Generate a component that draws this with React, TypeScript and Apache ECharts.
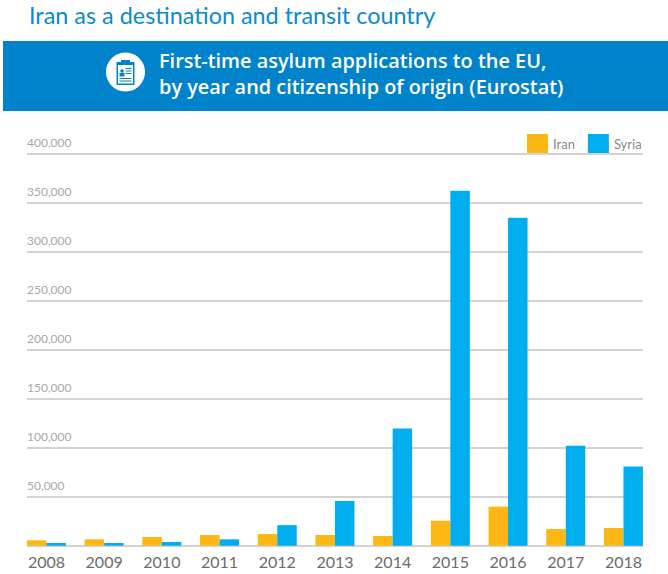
import React, { useEffect, useRef } from "react";
import * as echarts from "echarts";

const years = ["2008", "2009", "2010", "2011", "2012", "2013", "2014", "2015", "2016", "2017", "2018"];
const iran = [5500, 6500, 8900, 10900, 11900, 10900, 9900, 25500, 39800, 17000, 18000];
const syria = [2800, 2800, 3800, 6500, 21000, 45500, 119500, 362000, 334500, 102000, 80700];
const heading = "Iran as a destination and transit country";
const bannerLines = ["First-time asylum applications to the EU,", "by year and citizenship of origin (Eurostat)"];

const FONT = "Lato";
const BANNER_FONT = "Open Sans";
const BLUE = "#0083CB";

export default function App() {
  const ref = useRef<HTMLDivElement>(null);
  useEffect(() => {
    document.body.style.margin = "0";
    const chart = echarts.init(ref.current!, undefined, { renderer: "svg" });
    const axisTop = 153.5;
    const axisBottom = 545.7;
    chart.setOption({
      animation: false,
      backgroundColor: "#fff",
      legend: {
        left: 527,
        top: 134,
        padding: 0,
        itemWidth: 21,
        itemHeight: 19,
        itemGap: 13,
        itemStyle: { borderWidth: 0 },
        icon: "rect",
        textStyle: { fontFamily: FONT, fontSize: 13, color: "#8a8a8a" },
        data: ["Iran", "Syria"],
      },
      grid: [
        // bars: eleven bands wider than the rules drawn behind them
        { left: 17.6, width: 634.7, top: axisTop, height: axisBottom - axisTop },
        // rules and value labels
        { left: 27, width: 616, top: axisTop, height: axisBottom - axisTop },
      ],
      xAxis: [
        {
          type: "category",
          gridIndex: 0,
          data: years,
          axisLine: { show: false },
          axisTick: { show: false },
          axisLabel: { fontFamily: FONT, fontSize: 16, color: "#6b6b6b", margin: 8 },
        },
        { type: "category", gridIndex: 1, data: years, show: false },
      ],
      yAxis: [
        { type: "value", gridIndex: 0, min: 0, max: 400000, interval: 50000, show: false },
        {
          type: "value",
          gridIndex: 1,
          min: 0,
          max: 400000,
          interval: 50000,
          axisLine: { show: false },
          axisTick: { show: false },
          splitLine: { lineStyle: { color: "#c4c4c4", width: 1.5 } },
          axisLabel: {
            inside: true,
            margin: 0,
            align: "left",
            verticalAlign: "bottom",
            padding: [0, 0, 5, 0],
            fontFamily: FONT,
            fontSize: 12,
            color: "#a8a8a8",
            showMinLabel: false,
            formatter: (v: number) => (v === 0 ? "" : v.toLocaleString("en-US")),
          },
        },
      ],
      series: [
        {
          name: "Iran",
          type: "bar",
          xAxisIndex: 0,
          yAxisIndex: 0,
          data: iran,
          barWidth: 19.5,
          barGap: "0%",
          itemStyle: { color: "#FDB714" },
        },
        {
          name: "Syria",
          type: "bar",
          xAxisIndex: 0,
          yAxisIndex: 0,
          data: syria,
          barWidth: 19.5,
          barGap: "0%",
          itemStyle: { color: "#00AEEF" },
        },
      ],
      graphic: [
        {
          type: "text",
          x: 29,
          y: 3,
          style: { text: heading, fontFamily: FONT, fontSize: 23.4, fill: "#0A8AD0" },
        },
        { type: "rect", z: -1, shape: { x: 3, y: 41, width: 665, height: 70 }, style: { fill: BLUE } },
        {
          type: "text",
          x: 159,
          y: 50,
          style: { text: bannerLines[0], fontFamily: BANNER_FONT, fontSize: 19.9, fontWeight: 600, fill: "#fff" },
        },
        {
          type: "text",
          x: 159,
          y: 76,
          style: { text: bannerLines[1], fontFamily: BANNER_FONT, fontSize: 19.9, fontWeight: 600, fill: "#fff" },
        },
        // clipboard badge
        {
          type: "group",
          x: 125.5,
          y: 72,
          children: [
            { type: "circle", shape: { cx: 0, cy: 0, r: 19.5 }, style: { fill: "#fff" } },
            { type: "rect", shape: { x: -9, y: -10, width: 18, height: 23 }, style: { fill: BLUE } },
            { type: "rect", shape: { x: -7.5, y: -7, width: 15, height: 18.5 }, style: { fill: "#fff" } },
            { type: "rect", shape: { x: -4.5, y: -12, width: 9, height: 4 }, style: { fill: BLUE } },
            { type: "circle", shape: { cx: -3.5, cy: -1, r: 1.8 }, style: { fill: BLUE } },
            { type: "rect", shape: { x: -6, y: 1, width: 5, height: 3.5 }, style: { fill: BLUE } },
            { type: "rect", shape: { x: 0, y: -4, width: 6, height: 1 }, style: { fill: BLUE } },
            { type: "rect", shape: { x: 0, y: -1.5, width: 6, height: 1 }, style: { fill: BLUE } },
            { type: "rect", shape: { x: 0, y: 1, width: 6, height: 1 }, style: { fill: BLUE } },
            { type: "rect", shape: { x: -6, y: 6, width: 12, height: 1 }, style: { fill: BLUE } },
            { type: "rect", shape: { x: -6, y: 8.5, width: 12, height: 1 }, style: { fill: BLUE } },
          ],
        },
      ],
    });
    return () => chart.dispose();
  }, []);
  return <div ref={ref} style={{ position: "absolute", left: 0, top: 0, width: 668, height: 574 }} />;
}
